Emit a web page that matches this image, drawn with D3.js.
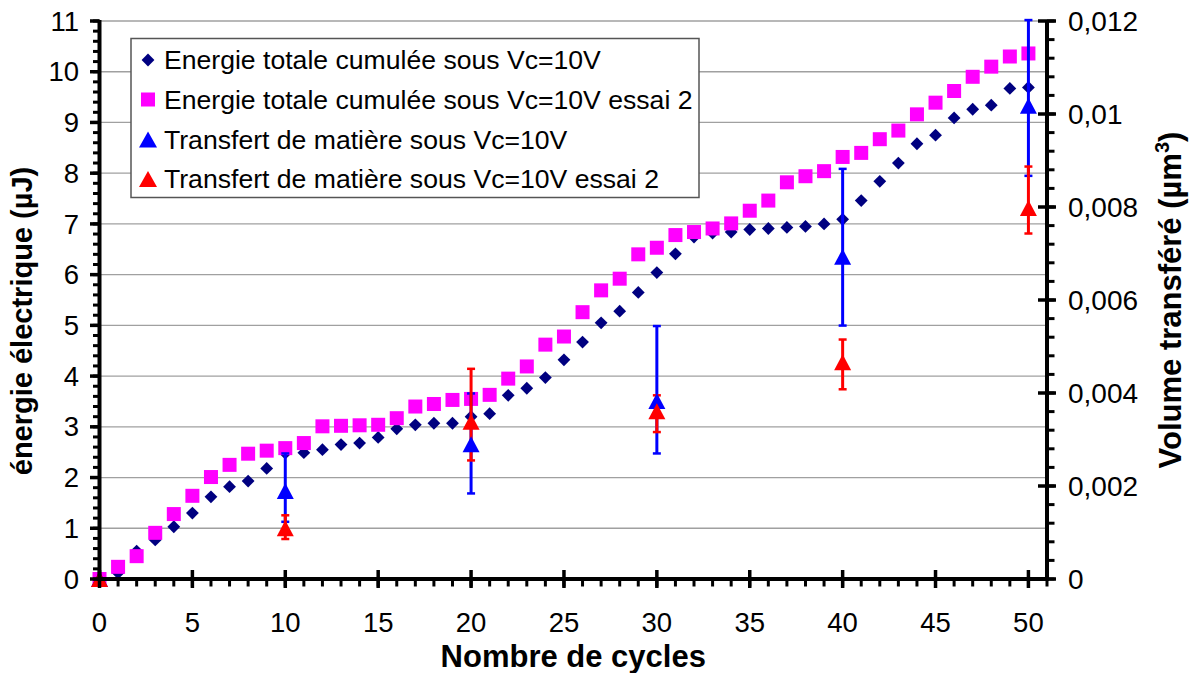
<!DOCTYPE html>
<html>
<head>
<meta charset="utf-8">
<script src="https://d3js.org/d3.v7.min.js"></script>
<style>
  html, body { margin: 0; padding: 0; background: #fff; }
  svg { display: block; font-family: "Liberation Sans", Arial, sans-serif; }
</style>
</head>
<body>
<svg id="chart" width="1194" height="673"></svg>
<script>
// Cumulative electrical energy (µJ) per cycle, cycles 0..50
const energyRun1 = [0, 0.12, 0.55, 0.77, 1.03, 1.30, 1.62, 1.82, 1.93, 2.18, 2.48, 2.49, 2.55, 2.65, 2.68, 2.79,
  2.96, 3.04, 3.07, 3.07, 3.20, 3.26, 3.62, 3.76, 3.97, 4.32, 4.67, 5.05, 5.28, 5.65, 6.04, 6.41, 6.74, 6.82,
  6.84, 6.89, 6.91, 6.93, 6.95, 7.00, 7.09, 7.46, 7.84, 8.20, 8.58, 8.75, 9.09, 9.26, 9.34, 9.67, 9.69];
const energyRun2 = [0, 0.24, 0.45, 0.91, 1.28, 1.64, 2.01, 2.25, 2.47, 2.53, 2.58, 2.68, 3.01, 3.02, 3.03, 3.04,
  3.17, 3.40, 3.45, 3.53, 3.55, 3.63, 3.95, 4.19, 4.62, 4.78, 5.26, 5.69, 5.92, 6.40, 6.53, 6.78, 6.84, 6.91,
  7.01, 7.26, 7.46, 7.82, 7.94, 8.04, 8.32, 8.40, 8.67, 8.84, 9.16, 9.39, 9.62, 9.90, 10.10, 10.30, 10.36];

// Transferred volume (µm³) measured every 10 cycles, with error-bar limits
const transferCycles = [0, 10, 20, 30, 40, 50];
const volumeRun1 = [0, 0.00189, 0.00290, 0.00383, 0.00693, 0.01018];
const volumeRun1Low = [0, 0.00123, 0.00184, 0.00270, 0.00545, 0.00867];
const volumeRun1High = [0, 0.00270, 0.00399, 0.00544, 0.00882, 0.01202];
const volumeRun2 = [0, 0.00109, 0.00338, 0.00361, 0.00466, 0.00798];
const volumeRun2Low = [0, 0.00086, 0.00255, 0.00316, 0.00408, 0.00743];
const volumeRun2High = [0, 0.00137, 0.00452, 0.00395, 0.00515, 0.00887];

const xTicks = [0, 5, 10, 15, 20, 25, 30, 35, 40, 45, 50];
const leftTicks = [0, 1, 2, 3, 4, 5, 6, 7, 8, 9, 10, 11];
const rightTicks = [0, 0.002, 0.004, 0.006, 0.008, 0.010, 0.012];

const legendLabels = [
  "Energie totale cumulée sous Vc=10V",
  "Energie totale cumulée sous Vc=10V essai 2",
  "Transfert de matière sous Vc=10V",
  "Transfert de matière sous Vc=10V essai 2"
];

const NAVY = "#000080", MAGENTA = "#FF00FF", BLUE = "#0000FF", RED = "#FF0000";

const svg = d3.select("#chart");
const plot = { left: 99.5, right: 1047, top: 21, bottom: 579 };

const x = d3.scaleLinear().domain([0, 51]).range([plot.left, plot.right]);
const yL = d3.scaleLinear().domain([0, 11]).range([plot.bottom, plot.top]);
const yR = d3.scaleLinear().domain([0, 0.012]).range([plot.bottom, plot.top]);

const comma = d3.formatLocale({ decimal: ",", thousands: " ", grouping: [3], currency: ["", "€"] });
const fmtR = v => v === 0 ? "0" : comma.format(".3~f")(v);

// Horizontal gridlines on the energy axis
svg.append("g").selectAll("line").data(leftTicks.filter(d => d > 0)).join("line")
  .attr("x1", plot.left).attr("x2", plot.right)
  .attr("y1", d => yL(d)).attr("y2", d => yL(d))
  .attr("stroke", "#a0a0a0").attr("stroke-width", 1.3);

// Energy series (diamonds, then squares drawn on top)
const diamondPath = d3.symbol().type(d3.symbolSquare).size(82)();
svg.append("g").selectAll("path").data(energyRun1).join("path")
  .attr("d", diamondPath)
  .attr("transform", (d, i) => `translate(${x(i)},${yL(d)}) rotate(45)`)
  .attr("fill", NAVY);

svg.append("g").selectAll("rect").data(energyRun2).join("rect")
  .attr("x", (d, i) => x(i) - 7).attr("y", d => yL(d) - 7)
  .attr("width", 14).attr("height", 14)
  .attr("fill", MAGENTA);

// Transfer series: error bars then triangle markers
function errorBars(lo, hi, color) {
  const g = svg.append("g").attr("stroke", color);
  transferCycles.forEach((c, i) => {
    if (hi[i] === lo[i]) return;
    const cx = x(c);
    g.append("line").attr("x1", cx).attr("x2", cx)
      .attr("y1", yR(lo[i])).attr("y2", yR(hi[i])).attr("stroke-width", 3);
    [lo[i], hi[i]].forEach(v => {
      g.append("line").attr("x1", cx - 4).attr("x2", cx + 4)
        .attr("y1", yR(v)).attr("y2", yR(v)).attr("stroke-width", 2.5);
    });
  });
}
function triangles(vals, color) {
  svg.append("g").selectAll("path").data(vals).join("path")
    .attr("d", (d, i) => {
      const cx = x(transferCycles[i]), cy = yR(d);
      return `M${cx},${cy - 8}L${cx + 8.5},${cy + 8}L${cx - 8.5},${cy + 8}Z`;
    })
    .attr("fill", color);
}
errorBars(volumeRun1Low, volumeRun1High, BLUE);
errorBars(volumeRun2Low, volumeRun2High, RED);
triangles(volumeRun1, BLUE);
triangles(volumeRun2, RED);

// Axes
const axisG = svg.append("g").attr("stroke", "#000");
// X axis minor / major ticks
axisG.append("g").selectAll("line").data(d3.range(0, 52, 1)).join("line")
  .attr("x1", d => x(d)).attr("x2", d => x(d))
  .attr("y1", plot.bottom).attr("y2", plot.bottom + 7.5).attr("stroke-width", 3);
axisG.append("g").selectAll("line").data(xTicks).join("line")
  .attr("x1", d => x(d)).attr("x2", d => x(d))
  .attr("y1", plot.bottom - 9).attr("y2", plot.bottom + 9).attr("stroke-width", 3.5);
// Left axis ticks
axisG.append("g").selectAll("line").data(d3.range(0, 56).map(k => k * 0.2)).join("line")
  .attr("x1", plot.left - 6.5).attr("x2", plot.left)
  .attr("y1", d => yL(d)).attr("y2", d => yL(d)).attr("stroke-width", 3);
axisG.append("g").selectAll("line").data(leftTicks).join("line")
  .attr("x1", plot.left - 9.5).attr("x2", plot.left)
  .attr("y1", d => yL(d)).attr("y2", d => yL(d)).attr("stroke-width", 3.5);
// Right axis ticks
axisG.append("g").selectAll("line").data(d3.range(0, 31).map(k => k * 0.0004)).join("line")
  .attr("x1", plot.right).attr("x2", plot.right + 7.5)
  .attr("y1", d => yR(d)).attr("y2", d => yR(d)).attr("stroke-width", 3);
axisG.append("g").selectAll("line").data(rightTicks).join("line")
  .attr("x1", plot.right - 9).attr("x2", plot.right + 9)
  .attr("y1", d => yR(d)).attr("y2", d => yR(d)).attr("stroke-width", 3.5);
// Axis lines
axisG.append("line").attr("x1", plot.left).attr("x2", plot.right)
  .attr("y1", plot.bottom).attr("y2", plot.bottom).attr("stroke-width", 4);
axisG.append("line").attr("x1", plot.left).attr("x2", plot.left)
  .attr("y1", plot.top - 1).attr("y2", plot.bottom + 2).attr("stroke-width", 4);
axisG.append("line").attr("x1", plot.right).attr("x2", plot.right)
  .attr("y1", plot.top - 1).attr("y2", plot.bottom + 2).attr("stroke-width", 4);

// Tick labels
svg.append("g").selectAll("text").data(xTicks).join("text")
  .attr("x", d => x(d)).attr("y", 632)
  .attr("text-anchor", "middle").attr("font-size", 27.5).text(d => d);
svg.append("g").selectAll("text").data(leftTicks).join("text")
  .attr("x", 79).attr("y", d => yL(d)).attr("dy", "0.35em")
  .attr("text-anchor", "end").attr("font-size", 27.5).text(d => d);
svg.append("g").selectAll("text").data(rightTicks).join("text")
  .attr("x", 1068).attr("y", d => yR(d)).attr("dy", "0.35em")
  .attr("text-anchor", "start").attr("font-size", 28).text(fmtR);

// Axis titles
svg.append("text").attr("x", (plot.left + plot.right) / 2).attr("y", 667)
  .attr("text-anchor", "middle").attr("font-size", 31).attr("font-weight", "bold")
  .text("Nombre de cycles");
svg.append("text").attr("transform", "translate(32,321) rotate(-90)")
  .attr("text-anchor", "middle").attr("font-size", 29).attr("font-weight", "bold")
  .text("énergie électrique (µJ)");
const rt = svg.append("text").attr("transform", "translate(1181,300) rotate(-90)")
  .attr("text-anchor", "middle").attr("font-size", 31).attr("font-weight", "bold");
rt.append("tspan").text("Volume transféré (µm");
rt.append("tspan").attr("font-size", 20).attr("dy", -12).text("3");
rt.append("tspan").attr("dy", 12).text(")");

// Legend
const lg = svg.append("g");
lg.append("rect").attr("x", 131).attr("y", 38.5).attr("width", 568).attr("height", 159)
  .attr("fill", "#fff").attr("stroke", "#555").attr("stroke-width", 1.5);
const rowsY = [60, 99.5, 139.5, 179];
const mx = 148;
lg.append("path").attr("d", diamondPath)
  .attr("transform", `translate(${mx},${rowsY[0]}) rotate(45)`).attr("fill", NAVY);
lg.append("rect").attr("x", mx - 7).attr("y", rowsY[1] - 7).attr("width", 14).attr("height", 14).attr("fill", MAGENTA);
[BLUE, RED].forEach((c, k) => {
  const cy = rowsY[2 + k];
  lg.append("path").attr("d", `M${mx},${cy - 8}L${mx + 9},${cy + 8}L${mx - 9},${cy + 8}Z`).attr("fill", c);
});
lg.selectAll("text.item").data(legendLabels).join("text")
  .attr("class", "item")
  .attr("x", 164).attr("y", (d, i) => rowsY[i]).attr("dy", "0.35em")
  .attr("font-size", 26.6).text(d => d);
</script>
</body>
</html>
